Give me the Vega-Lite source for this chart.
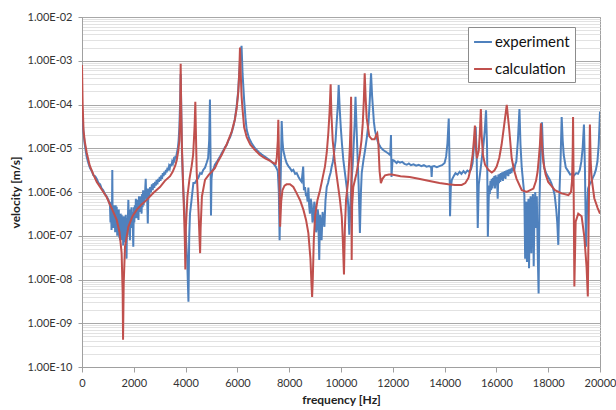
{
  "$schema": "https://vega.github.io/schema/vega-lite/v6.json",
  "width": 518,
  "height": 350,
  "autosize": {"type": "none"},
  "padding": {"left": 82, "top": 17, "right": 16, "bottom": 43},
  "background": "white",
  "config": {
    "view": {"stroke": "#a0a0a0", "strokeWidth": 1},
    "axis": {
      "labelFont": "Lato", "titleFont": "Lato", "labelFontSize": 11, "titleFontSize": 12,
      "titleFontWeight": "bold", "labelColor": "#333333", "titleColor": "#222222",
      "domainColor": "#a0a0a0", "tickColor": "#a0a0a0"
    },
    "legend": {"labelFont": "Lato"}
  },
  "datasets": {
    "exp": [
      {"f":0,"v":1e-4},{"f":40,"v":3e-5},{"f":100,"v":1.3e-5},{"f":180,"v":6.4e-6},{"f":250,"v":4.5e-6},{"f":310,"v":3.5e-6},{"f":380,"v":3.0e-6},{"f":440,"v":2.4e-6},{"f":510,"v":2.3e-6},{"f":570,"v":2.0e-6},{"f":640,"v":1.6e-6},{"f":700,"v":1.5e-6},{"f":760,"v":1.2e-6},{"f":820,"v":1.1e-6},{"f":880,"v":9e-7},{"f":950,"v":8e-7},{"f":1020,"v":6.6e-7},
      {"f":1080,"v":5e-7},{"f":1100,"v":2e-7},{"f":1120,"v":6e-7},{"f":1140,"v":1.35e-7},{"f":1160,"v":5e-7},{"f":1170,"v":3.2e-6},{"f":1180,"v":4e-7},{"f":1200,"v":1.5e-7},{"f":1220,"v":5e-7},{"f":1240,"v":1.8e-7},{"f":1260,"v":4.5e-7},{"f":1280,"v":1.2e-7},{"f":1300,"v":5e-7},{"f":1320,"v":2e-7},{"f":1340,"v":4.6e-7},{"f":1360,"v":1e-7},{"f":1380,"v":3.5e-7},{"f":1400,"v":1.6e-7},{"f":1420,"v":4e-7},{"f":1440,"v":9e-8},{"f":1460,"v":3e-7},{"f":1470,"v":7.9e-8},{"f":1490,"v":3.2e-7},{"f":1510,"v":1.2e-7},{"f":1530,"v":3e-7},{"f":1550,"v":8e-8},{"f":1570,"v":2.5e-7},{"f":1590,"v":6e-8},{"f":1610,"v":2.8e-7},{"f":1630,"v":9e-8},{"f":1650,"v":2.5e-7},{"f":1670,"v":7e-8},{"f":1690,"v":3e-7},{"f":1710,"v":5e-8},{"f":1720,"v":3e-8},{"f":1740,"v":2.5e-7},{"f":1760,"v":1e-7},{"f":1780,"v":4e-7},{"f":1790,"v":6.6e-7},{"f":1810,"v":1.5e-7},{"f":1830,"v":3.5e-7},{"f":1850,"v":7.9e-8},{"f":1870,"v":4e-7},{"f":1890,"v":1.5e-7},{"f":1910,"v":4.5e-7},{"f":1930,"v":1.8e-7},{"f":1950,"v":3.5e-7},{"f":1980,"v":5.6e-8},{"f":2000,"v":4.5e-7},{"f":2020,"v":2e-7},{"f":2040,"v":5e-7},{"f":2060,"v":2.5e-7},{"f":2080,"v":7e-7},{"f":2100,"v":3e-7},{"f":2120,"v":6.6e-7},{"f":2140,"v":2.5e-7},{"f":2160,"v":6e-7},{"f":2180,"v":2.3e-7},{"f":2200,"v":8e-7},{"f":2220,"v":3.5e-7},{"f":2240,"v":7.8e-7},{"f":2260,"v":3.5e-7},{"f":2280,"v":8e-7},{"f":2300,"v":3.2e-7},{"f":2320,"v":9e-7},{"f":2340,"v":4.5e-7},{"f":2360,"v":1.1e-6},{"f":2380,"v":5e-7},{"f":2400,"v":1e-6},{"f":2420,"v":6e-7},{"f":2440,"v":1.1e-6},{"f":2460,"v":2e-6},{"f":2480,"v":7e-7},{"f":2500,"v":1.2e-6},{"f":2520,"v":6e-7},{"f":2540,"v":1.9e-7},{"f":2560,"v":9e-7},{"f":2580,"v":1.2e-6},{"f":2600,"v":8e-7},{"f":2630,"v":1.3e-6},{"f":2660,"v":1e-6},
      {"f":2700,"v":1.5e-6},{"f":2730,"v":1.1e-6},{"f":2760,"v":1.6e-6},{"f":2790,"v":1.25e-6},{"f":2820,"v":1.7e-6},{"f":2850,"v":1.4e-6},{"f":2880,"v":1.9e-6},{"f":2910,"v":1.5e-6},{"f":2940,"v":2e-6},{"f":2970,"v":1.7e-6},{"f":3000,"v":2.2e-6},{"f":3030,"v":1.8e-6},{"f":3060,"v":2.4e-6},{"f":3090,"v":2e-6},{"f":3120,"v":2.7e-6},{"f":3150,"v":2.3e-6},{"f":3180,"v":2.9e-6},{"f":3210,"v":2.5e-6},{"f":3240,"v":3.2e-6},{"f":3270,"v":2.8e-6},{"f":3300,"v":3.6e-6},{"f":3330,"v":3.1e-6},{"f":3360,"v":3.9e-6},{"f":3390,"v":3.5e-6},{"f":3420,"v":4.4e-6},{"f":3450,"v":3.9e-6},{"f":3480,"v":4.9e-6},{"f":3510,"v":4.5e-6},{"f":3540,"v":5.6e-6},{"f":3570,"v":5.2e-6},{"f":3600,"v":6.3e-6},{"f":3630,"v":6.2e-6},{"f":3660,"v":7.6e-6},{"f":3700,"v":1.0e-5},{"f":3730,"v":1.5e-5},{"f":3760,"v":3e-5},{"f":3790,"v":1.2e-4},{"f":3810,"v":5e-4},{"f":3830,"v":1e-4},{"f":3860,"v":8e-6},{"f":3900,"v":1.5e-6},{"f":3950,"v":4e-7},{"f":4000,"v":1.2e-7},{"f":4060,"v":3e-8},{"f":4110,"v":3.1e-9},{"f":4140,"v":1e-7},{"f":4170,"v":3.2e-7},{"f":4230,"v":6.6e-7},{"f":4300,"v":1.6e-6},{"f":4360,"v":1.6e-6},{"f":4430,"v":1.9e-6},{"f":4490,"v":2.1e-6},{"f":4560,"v":2.7e-6},{"f":4620,"v":2.6e-6},{"f":4680,"v":3.2e-6},{"f":4750,"v":3.6e-6},{"f":4810,"v":4.6e-6},{"f":4870,"v":6e-6},{"f":4910,"v":1.5e-5},{"f":4940,"v":1.3e-4},{"f":4960,"v":1e-5},{"f":4980,"v":2.9e-7},{"f":5000,"v":2e-6},{"f":5030,"v":3e-6},{"f":5080,"v":3.4e-6},{"f":5130,"v":4.2e-6},{"f":5200,"v":4.8e-6},{"f":5260,"v":5.5e-6},{"f":5330,"v":6.5e-6},{"f":5390,"v":7.6e-6},{"f":5460,"v":9e-6},{"f":5520,"v":1.05e-5},{"f":5590,"v":1.2e-5},{"f":5650,"v":1.5e-5},{"f":5720,"v":1.8e-5},{"f":5780,"v":2.3e-5},{"f":5840,"v":3.1e-5},{"f":5900,"v":4.5e-5},{"f":5970,"v":8.9e-5},{"f":6030,"v":2e-4},{"f":6070,"v":5.1e-4},{"f":6110,"v":1.2e-3},{"f":6160,"v":2.2e-3},{"f":6200,"v":5e-4},{"f":6260,"v":1.26e-4},{"f":6310,"v":5e-5},{"f":6360,"v":2.6e-5},{"f":6450,"v":1.7e-5},{"f":6550,"v":1.3e-5},{"f":6680,"v":1e-5},{"f":6810,"v":8.3e-6},{"f":6940,"v":7.2e-6},{"f":7070,"v":6.4e-6},{"f":7200,"v":5.6e-6},{"f":7320,"v":4.9e-6},{"f":7400,"v":4.4e-6},{"f":7480,"v":3.8e-6},{"f":7560,"v":3e-6},{"f":7600,"v":1e-6},{"f":7630,"v":7.9e-8},{"f":7660,"v":1e-6},{"f":7690,"v":8e-6},{"f":7710,"v":4.2e-5},{"f":7740,"v":1.5e-5},{"f":7770,"v":9.1e-6},{"f":7840,"v":6e-6},{"f":7900,"v":4.6e-6},{"f":7980,"v":3.8e-6},{"f":8030,"v":3.5e-6},{"f":8100,"v":3e-6},{"f":8160,"v":3.2e-6},{"f":8230,"v":2.6e-6},{"f":8290,"v":2.7e-6},{"f":8360,"v":2.2e-6},{"f":8420,"v":1.9e-6},{"f":8480,"v":1.7e-6},{"f":8540,"v":3.8e-6},{"f":8570,"v":1.1e-6},{"f":8610,"v":1.3e-6},{"f":8650,"v":8e-7},{"f":8680,"v":9.3e-7},{"f":8710,"v":6e-7},{"f":8740,"v":1.26e-6},{"f":8770,"v":5e-7},{"f":8800,"v":3.2e-7},{"f":8830,"v":7e-7},{"f":8870,"v":5e-7},{"f":8900,"v":2e-7},{"f":8930,"v":2.5e-7},{"f":8970,"v":6e-7},{"f":9000,"v":4.5e-7},{"f":9040,"v":1.2e-7},{"f":9070,"v":1.6e-7},{"f":9100,"v":4e-7},{"f":9120,"v":3.2e-7},{"f":9160,"v":2.8e-8},{"f":9190,"v":3e-7},{"f":9210,"v":2.3e-7},{"f":9250,"v":7.9e-8},{"f":9290,"v":3.5e-7},{"f":9320,"v":2.5e-7},{"f":9360,"v":1.6e-7},{"f":9400,"v":6.3e-7},{"f":9450,"v":1.3e-6},{"f":9500,"v":1.6e-6},{"f":9550,"v":2.2e-6},{"f":9600,"v":2.8e-6},{"f":9640,"v":3.8e-6},{"f":9690,"v":5e-6},{"f":9730,"v":7.6e-6},{"f":9790,"v":1.5e-5},{"f":9830,"v":3.7e-5},{"f":9880,"v":1e-4},{"f":9910,"v":2.8e-4},{"f":9950,"v":8e-5},{"f":9990,"v":3.1e-5},{"f":10040,"v":1.2e-5},{"f":10090,"v":5.4e-6},{"f":10160,"v":2.5e-6},{"f":10220,"v":1.3e-6},{"f":10280,"v":5e-7},{"f":10320,"v":1.05e-7},{"f":10370,"v":6e-7},{"f":10410,"v":1.9e-6},{"f":10450,"v":4e-6},{"f":10480,"v":9.1e-6},{"f":10530,"v":4e-5},{"f":10560,"v":1.5e-4},{"f":10600,"v":3e-5},{"f":10630,"v":9.1e-6},{"f":10680,"v":1.5e-6},{"f":10730,"v":1.15e-7},{"f":10770,"v":1e-6},{"f":10800,"v":2.7e-6},{"f":10860,"v":5e-6},{"f":10930,"v":9.1e-6},{"f":11000,"v":1.8e-5},{"f":11060,"v":3.7e-5},{"f":11110,"v":1.2e-4},{"f":11160,"v":5.2e-4},{"f":11200,"v":1.6e-4},{"f":11230,"v":8.9e-5},{"f":11270,"v":4e-5},{"f":11310,"v":2.6e-5},{"f":11370,"v":1.8e-5},{"f":11440,"v":1.3e-5},{"f":11530,"v":1.05e-5},{"f":11630,"v":9.1e-6},{"f":11730,"v":8.3e-6},{"f":11830,"v":7.6e-6},{"f":11900,"v":7e-6},{"f":11930,"v":2e-5},{"f":11950,"v":2.2e-6},{"f":11990,"v":5.4e-6},{"f":12050,"v":5.2e-6},{"f":12150,"v":4.6e-6},{"f":12200,"v":5.0e-6},{"f":12280,"v":4.7e-6},{"f":12360,"v":4.9e-6},{"f":12450,"v":4.4e-6},{"f":12540,"v":4.2e-6},{"f":12620,"v":4.5e-6},{"f":12700,"v":4.1e-6},{"f":12800,"v":4.3e-6},{"f":12900,"v":4.0e-6},{"f":13000,"v":4.2e-6},{"f":13100,"v":3.9e-6},{"f":13200,"v":4.1e-6},{"f":13300,"v":3.8e-6},{"f":13400,"v":3.9e-6},{"f":13480,"v":3.7e-6},{"f":13500,"v":2.2e-6},{"f":13520,"v":3.8e-6},{"f":13600,"v":3.9e-6},{"f":13700,"v":3.7e-6},{"f":13800,"v":3.9e-6},{"f":13900,"v":4.1e-6},{"f":14000,"v":4.6e-6},{"f":14060,"v":6.5e-6},{"f":14110,"v":1.3e-5},{"f":14160,"v":4.8e-5},{"f":14190,"v":5e-6},{"f":14210,"v":2.8e-7},{"f":14240,"v":1.3e-6},{"f":14280,"v":1.9e-6},{"f":14350,"v":2.3e-6},{"f":14420,"v":2.7e-6},{"f":14500,"v":2.5e-6},{"f":14580,"v":2.9e-6},{"f":14650,"v":2.6e-6},{"f":14730,"v":3.0e-6},{"f":14800,"v":2.7e-6},{"f":14880,"v":3.1e-6},{"f":14950,"v":2.9e-6},{"f":15020,"v":3.3e-6},{"f":15080,"v":4.5e-6},{"f":15130,"v":1e-5},{"f":15200,"v":3.1e-5},{"f":15240,"v":6e-6},{"f":15280,"v":1.5e-7},{"f":15320,"v":1.5e-6},{"f":15380,"v":3e-6},{"f":15440,"v":6e-6},{"f":15500,"v":1.2e-5},{"f":15550,"v":2.5e-5},{"f":15600,"v":7.4e-5},{"f":15640,"v":1e-5},{"f":15670,"v":9.5e-8},
      {"f":15700,"v":6e-7},{"f":15720,"v":1.4e-6},{"f":15745,"v":9e-7},{"f":15770,"v":1.8e-6},{"f":15795,"v":1.1e-6},{"f":15820,"v":2e-6},{"f":15845,"v":1.2e-6},{"f":15870,"v":2.1e-6},{"f":15895,"v":1.4e-6},{"f":15920,"v":2.3e-6},{"f":15945,"v":1.2e-6},{"f":15970,"v":2.4e-6},{"f":15995,"v":1.5e-6},{"f":16020,"v":2.2e-6},{"f":16050,"v":7e-7},{"f":16075,"v":2.5e-6},{"f":16100,"v":1.6e-6},{"f":16125,"v":2.6e-6},{"f":16150,"v":1.7e-6},{"f":16175,"v":2.7e-6},{"f":16200,"v":1.9e-6},{"f":16225,"v":2.8e-6},{"f":16250,"v":1.8e-6},{"f":16275,"v":2.9e-6},{"f":16300,"v":2.1e-6},{"f":16325,"v":3e-6},{"f":16350,"v":2e-6},{"f":16375,"v":3.1e-6},{"f":16400,"v":2.4e-6},{"f":16430,"v":3.2e-6},{"f":16460,"v":2.3e-6},{"f":16490,"v":3.3e-6},{"f":16520,"v":2.6e-6},{"f":16550,"v":3.4e-6},{"f":16580,"v":2.7e-6},{"f":16610,"v":3.6e-6},{"f":16640,"v":3e-6},{"f":16670,"v":3.8e-6},{"f":16700,"v":3.4e-6},{"f":16730,"v":4.3e-6},{"f":16770,"v":5e-6},{"f":16830,"v":1.5e-5},{"f":16890,"v":7.9e-5},{"f":16930,"v":1.2e-5},{"f":16980,"v":3.5e-6},{"f":17040,"v":1.5e-6},{"f":17080,"v":8.5e-7},{"f":17110,"v":3e-8},{"f":17130,"v":5e-7},{"f":17160,"v":6e-7},{"f":17180,"v":2.5e-8},{"f":17210,"v":4e-7},{"f":17240,"v":7e-7},{"f":17260,"v":1.8e-8},{"f":17290,"v":3.5e-7},{"f":17320,"v":8e-7},{"f":17350,"v":4e-8},{"f":17380,"v":5e-7},{"f":17410,"v":9e-7},{"f":17440,"v":2e-8},{"f":17470,"v":4e-7},{"f":17500,"v":1e-6},{"f":17530,"v":1.5e-7},{"f":17560,"v":8e-7},{"f":17600,"v":3e-8},{"f":17630,"v":4.8e-9},{"f":17660,"v":5e-7},{"f":17700,"v":5e-6},{"f":17760,"v":3.9e-5},{"f":17800,"v":8e-6},{"f":17850,"v":3.5e-6},{"f":17930,"v":2.6e-6},{"f":18000,"v":2.2e-6},{"f":18060,"v":1.9e-6},{"f":18120,"v":1.6e-6},{"f":18190,"v":1.2e-6},{"f":18250,"v":8.5e-7},{"f":18310,"v":4e-7},{"f":18350,"v":2e-7},{"f":18390,"v":6.2e-8},{"f":18430,"v":8e-7},{"f":18480,"v":6e-6},{"f":18520,"v":5.2e-5},{"f":18560,"v":1.5e-5},{"f":18600,"v":7e-6},{"f":18680,"v":3.6e-6},{"f":18770,"v":3e-6},{"f":18850,"v":2.5e-6},{"f":18930,"v":2.6e-6},{"f":19000,"v":2.4e-6},{"f":19080,"v":2.7e-6},{"f":19150,"v":2.6e-6},{"f":19220,"v":3.2e-6},{"f":19280,"v":5e-6},{"f":19330,"v":1e-5},{"f":19380,"v":3.5e-5},{"f":19420,"v":3e-6},{"f":19460,"v":5.6e-8},{"f":19500,"v":4e-7},{"f":19540,"v":1.2e-6},{"f":19600,"v":1.5e-6},{"f":19660,"v":1.7e-6},{"f":19720,"v":2.1e-6},{"f":19780,"v":2.5e-6},{"f":19840,"v":3.2e-6},{"f":19900,"v":4.9e-6},{"f":19950,"v":1.2e-5},{"f":20000,"v":6.9e-5}
    ],
    "calc": [
      {"f":0,"v":8e-4},{"f":25,"v":1e-4},{"f":60,"v":2.5e-5},{"f":110,"v":1.4e-5},{"f":180,"v":8e-6},{"f":300,"v":4e-6},{"f":440,"v":2.5e-6},{"f":570,"v":1.7e-6},{"f":780,"v":1.1e-6},{"f":950,"v":7.7e-7},{"f":1150,"v":4.2e-7},{"f":1340,"v":2.3e-7},{"f":1450,"v":1.2e-7},{"f":1530,"v":4e-8},{"f":1570,"v":5e-9},{"f":1585,"v":4.2e-10},{"f":1610,"v":8e-9},{"f":1660,"v":5.6e-8},{"f":1790,"v":1.6e-7},{"f":1950,"v":2.8e-7},{"f":2110,"v":3.9e-7},{"f":2300,"v":5.2e-7},{"f":2500,"v":6.6e-7},{"f":2750,"v":9.5e-7},{"f":3010,"v":1.3e-6},{"f":3200,"v":1.8e-6},{"f":3400,"v":2.3e-6},{"f":3500,"v":2.9e-6},{"f":3600,"v":4e-6},{"f":3660,"v":5.4e-6},{"f":3720,"v":9e-6},{"f":3760,"v":1.5e-5},{"f":3790,"v":6e-5},{"f":3810,"v":8.5e-4},{"f":3830,"v":8e-5},{"f":3860,"v":1e-5},{"f":3890,"v":2.7e-6},{"f":3930,"v":5e-7},{"f":3970,"v":8e-8},{"f":3990,"v":1.7e-8},{"f":4010,"v":1.5e-7},{"f":4070,"v":7.9e-7},{"f":4150,"v":2e-6},{"f":4230,"v":3.8e-6},{"f":4290,"v":7e-6},{"f":4320,"v":1.5e-5},{"f":4350,"v":3.5e-5},{"f":4375,"v":1.15e-4},{"f":4400,"v":2e-5},{"f":4430,"v":2.7e-6},{"f":4490,"v":5e-7},{"f":4540,"v":8e-8},{"f":4560,"v":4e-8},{"f":4580,"v":1.5e-7},{"f":4630,"v":7.9e-7},{"f":4750,"v":1.9e-6},{"f":4900,"v":2.5e-6},{"f":5010,"v":2.9e-6},{"f":5130,"v":3.5e-6},{"f":5250,"v":5e-6},{"f":5390,"v":7e-6},{"f":5580,"v":1.2e-5},{"f":5780,"v":2.4e-5},{"f":5900,"v":4.5e-5},{"f":5970,"v":8e-5},{"f":6030,"v":1.8e-4},{"f":6070,"v":5e-4},{"f":6100,"v":2.0e-3},{"f":6130,"v":5e-4},{"f":6160,"v":1.6e-4},{"f":6190,"v":8.9e-5},{"f":6260,"v":3e-5},{"f":6360,"v":1.8e-5},{"f":6500,"v":1.2e-5},{"f":6680,"v":9.1e-6},{"f":6870,"v":7e-6},{"f":7070,"v":5.9e-6},{"f":7250,"v":5.2e-6},{"f":7390,"v":4.6e-6},{"f":7480,"v":4.4e-6},{"f":7520,"v":6e-6},{"f":7560,"v":1.5e-5},{"f":7580,"v":4.5e-5},{"f":7600,"v":1e-5},{"f":7630,"v":8e-7},{"f":7650,"v":1.6e-7},{"f":7690,"v":6e-7},{"f":7740,"v":1.1e-6},{"f":7820,"v":1.4e-6},{"f":7900,"v":1.5e-6},{"f":8030,"v":1.5e-6},{"f":8160,"v":1.3e-6},{"f":8290,"v":9.3e-7},{"f":8420,"v":6.5e-7},{"f":8550,"v":3.9e-7},{"f":8650,"v":2.3e-7},{"f":8740,"v":1.15e-7},{"f":8820,"v":3e-8},{"f":8860,"v":8e-9},{"f":8885,"v":4e-9},{"f":8910,"v":1e-8},{"f":8950,"v":8e-8},{"f":9000,"v":2.8e-7},{"f":9090,"v":6.5e-7},{"f":9190,"v":1.1e-6},{"f":9290,"v":2.1e-6},{"f":9380,"v":3.8e-6},{"f":9450,"v":8e-6},{"f":9510,"v":2.2e-5},{"f":9560,"v":7e-5},{"f":9600,"v":2.9e-4},{"f":9630,"v":6e-5},{"f":9680,"v":1.5e-5},{"f":9760,"v":5e-6},{"f":9840,"v":2.2e-6},{"f":9960,"v":6.6e-7},{"f":10030,"v":2.7e-7},{"f":10070,"v":7.9e-8},{"f":10115,"v":1.3e-8},{"f":10150,"v":1.5e-7},{"f":10195,"v":6.6e-7},{"f":10280,"v":1.9e-6},{"f":10340,"v":1e-5},{"f":10370,"v":3.5e-5},{"f":10390,"v":1.5e-4},{"f":10400,"v":2e-5},{"f":10412,"v":2.8e-8},{"f":10430,"v":5e-7},{"f":10475,"v":1.3e-6},{"f":10600,"v":2.7e-6},{"f":10730,"v":7.6e-6},{"f":10790,"v":1.5e-5},{"f":10840,"v":3.7e-5},{"f":10880,"v":1.2e-4},{"f":10915,"v":5.2e-4},{"f":10950,"v":1.5e-4},{"f":10990,"v":5e-5},{"f":11090,"v":1.9e-5},{"f":11190,"v":1.6e-5},{"f":11300,"v":1.6e-5},{"f":11360,"v":2e-5},{"f":11400,"v":2.2e-5},{"f":11440,"v":1.4e-5},{"f":11490,"v":3e-6},{"f":11540,"v":1.6e-6},{"f":11600,"v":2e-6},{"f":11700,"v":2.4e-6},{"f":11850,"v":2.5e-6},{"f":11960,"v":2.5e-6},{"f":12300,"v":2.3e-6},{"f":12650,"v":2.2e-6},{"f":13000,"v":2.0e-6},{"f":13370,"v":1.8e-6},{"f":13800,"v":1.6e-6},{"f":14140,"v":1.5e-6},{"f":14400,"v":1.45e-6},{"f":14660,"v":1.45e-6},{"f":14800,"v":1.6e-6},{"f":14920,"v":2.1e-6},{"f":15000,"v":3.3e-6},{"f":15080,"v":7e-6},{"f":15130,"v":1.5e-5},{"f":15170,"v":3.3e-5},{"f":15210,"v":1e-5},{"f":15250,"v":5.9e-6},{"f":15320,"v":9e-6},{"f":15360,"v":2.2e-5},{"f":15400,"v":7.9e-5},{"f":15430,"v":2e-5},{"f":15480,"v":7e-6},{"f":15560,"v":4.2e-6},{"f":15690,"v":3.2e-6},{"f":15820,"v":2.8e-6},{"f":15920,"v":3.1e-6},{"f":16010,"v":3.8e-6},{"f":16110,"v":6e-6},{"f":16200,"v":1.2e-5},{"f":16300,"v":3.4e-5},{"f":16400,"v":9.8e-5},{"f":16490,"v":2.9e-5},{"f":16590,"v":5.9e-6},{"f":16680,"v":3.2e-6},{"f":16780,"v":2e-6},{"f":16980,"v":1.1e-6},{"f":17170,"v":1e-6},{"f":17430,"v":1.2e-6},{"f":17530,"v":1.8e-6},{"f":17590,"v":2.9e-6},{"f":17640,"v":6e-6},{"f":17680,"v":1.2e-5},{"f":17720,"v":3.7e-5},{"f":17760,"v":1.2e-5},{"f":17810,"v":4.9e-6},{"f":17900,"v":2.5e-6},{"f":18000,"v":1.7e-6},{"f":18260,"v":1.1e-6},{"f":18520,"v":9.3e-7},{"f":18780,"v":8.5e-7},{"f":18880,"v":1e-6},{"f":18920,"v":1.8e-6},{"f":18945,"v":8e-6},{"f":18960,"v":5.2e-5},{"f":18980,"v":2e-6},{"f":19010,"v":6.9e-9},{"f":19060,"v":2.1e-7},{"f":19160,"v":3.2e-7},{"f":19290,"v":2.8e-7},{"f":19390,"v":1e-7},{"f":19480,"v":2e-8},{"f":19530,"v":4.1e-9},{"f":19565,"v":3e-7},{"f":19590,"v":5e-6},{"f":19610,"v":3.5e-5},{"f":19640,"v":5e-6},{"f":19680,"v":2e-6},{"f":19780,"v":7.2e-7},{"f":19910,"v":4.3e-7},{"f":20000,"v":3.2e-7}
    ]
  },
  "encoding": {
    "x": {
      "field": "f", "type": "quantitative",
      "scale": {"domain": [0, 20000], "nice": false, "zero": false},
      "axis": {
        "title": "frequency [Hz]", "grid": false,
        "values": [0,2000,4000,6000,8000,10000,12000,14000,16000,18000,20000],
        "format": "d", "labelFlush": false, "labelOverlap": false,
        "tickSize": 5, "labelPadding": 5, "titlePadding": 6
      }
    },
    "y": {
      "field": "v", "type": "quantitative",
      "scale": {"type": "log", "domain": [1e-10, 1e-2], "nice": false},
      "axis": {
        "title": "velocity [m/s]",
        "values": [1e-10,2e-10,3e-10,4e-10,5e-10,6e-10,7e-10,8e-10,9e-10,1e-9,2e-9,3e-9,4e-9,5e-9,6e-9,7e-9,8e-9,9e-9,1e-8,2e-8,3e-8,4e-8,5e-8,6e-8,7e-8,8e-8,9e-8,1e-7,2e-7,3e-7,4e-7,5e-7,6e-7,7e-7,8e-7,9e-7,1e-6,2e-6,3e-6,4e-6,5e-6,6e-6,7e-6,8e-6,9e-6,1e-5,2e-5,3e-5,4e-5,5e-5,6e-5,7e-5,8e-5,9e-5,1e-4,2e-4,3e-4,4e-4,5e-4,6e-4,7e-4,8e-4,9e-4,1e-3,2e-3,3e-3,4e-3,5e-3,6e-3,7e-3,8e-3,9e-3,1e-2],
        "labelExpr": "abs(log(datum.value)/LN10 - round(log(datum.value)/LN10)) < 0.01 ? '1.00E-' + (round(-log(datum.value)/LN10) < 10 ? '0' : '') + round(-log(datum.value)/LN10) : ''",
        "labelOverlap": false, "labelBound": false,
        "gridColor": {"condition": {"test": "abs(log(datum.value)/LN10 - round(log(datum.value)/LN10)) < 0.01", "value": "#a8a8a8"}, "value": "#e2e2e2"},
        "tickOpacity": {"condition": {"test": "abs(log(datum.value)/LN10 - round(log(datum.value)/LN10)) < 0.01", "value": 1}, "value": 0},
        "tickSize": 4, "labelPadding": 6, "titlePadding": 5
      }
    }
  },
  "layer": [
    {
      "data": {"name": "exp"},
      "mark": {"type": "line", "strokeWidth": 2, "clip": true},
      "encoding": {
        "color": {
          "datum": "experiment", "type": "nominal",
          "scale": {"domain": ["experiment", "calculation"], "range": ["#4f81bd", "#c0504d"]},
          "legend": {
            "title": null, "orient": "none", "legendX": 386, "legendY": 10,
            "symbolType": "stroke", "symbolSize": 320, "symbolStrokeWidth": 2,
            "labelFontSize": 15, "labelColor": "#111111", "labelOffset": 2,
            "padding": 5, "rowPadding": 9, "strokeColor": "#8c8c8c", "fillColor": "white"
          }
        }
      }
    },
    {
      "data": {"name": "calc"},
      "mark": {"type": "line", "strokeWidth": 2, "clip": true},
      "encoding": {
        "color": {
          "datum": "calculation", "type": "nominal",
          "scale": {"domain": ["experiment", "calculation"], "range": ["#4f81bd", "#c0504d"]}
        }
      }
    }
  ]
}
